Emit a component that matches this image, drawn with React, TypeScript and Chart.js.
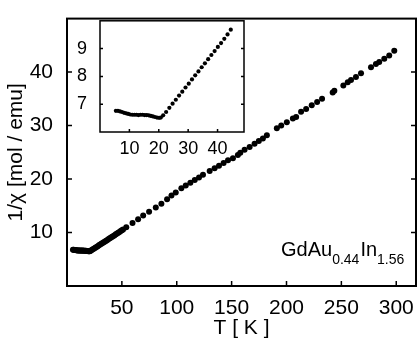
import React, { useEffect, useRef } from 'react';
import { Chart, registerables } from 'chart.js';

Chart.register(...registerables);

// ---- data ----
const insetT = [5.4, 6.1, 6.8, 7.5, 8.2, 8.9, 9.6, 10.3, 11.0, 11.7, 12.4, 13.1, 13.8, 14.5, 15.2, 15.9, 16.6, 17.3, 18.0, 18.7, 19.4, 20.1,
  20.7, 21.5, 22.5, 23.6, 24.7, 25.8, 26.9, 28.0, 29.1, 30.2, 31.3, 32.4, 33.5, 34.6, 35.7, 36.8, 37.9, 39.0, 40.1, 41.2, 42.3, 43.4, 44.5];
const insetChi = [6.76, 6.76, 6.74, 6.72, 6.69, 6.67, 6.65, 6.63, 6.62, 6.62, 6.62, 6.61, 6.62, 6.62, 6.61, 6.61, 6.60, 6.58, 6.56, 6.54, 6.52, 6.51,
  6.52, 6.60, 6.72, 6.87, 7.02, 7.16, 7.31, 7.45, 7.60, 7.74, 7.89, 8.04, 8.18, 8.33, 8.47, 8.62, 8.77, 8.91, 9.06, 9.20, 9.35, 9.51, 9.68];

const highT = [45.6, 46.7, 47.8, 48.9, 50.0, 51.1, 54.0, 59.7, 64.8, 69.4, 74.8, 80.9, 86.0, 91.2, 95.2, 99.1, 104.2, 108.2, 112.4, 116.4,
  120.3, 123.9, 130.0, 134.5, 138.5, 142.7, 146.7, 151.2, 155.7, 157.9, 161.8, 166.4, 170.9, 174.8, 178.5, 182.1, 191.2, 195.2, 200.3, 205.8,
  208.8, 213.3, 217.9, 223.0, 227.9, 232.4, 242.1, 243.6, 251.8, 255.8, 258.8, 263.3, 267.9, 277.0, 281.5, 284.5, 289.1, 293.6, 298.2];
const highChi = [9.83, 9.97, 10.12, 10.27, 10.42, 10.57, 11.0, 11.8, 12.5, 13.2, 13.9, 14.7, 15.4, 16.2, 16.9, 17.5, 18.3, 18.8, 19.3, 19.8,
  20.3, 20.8, 21.5, 22.0, 22.5, 23.0, 23.5, 23.9, 24.5, 24.9, 25.5, 26.0, 26.6, 27.1, 27.6, 28.2, 29.5, 30.0, 30.6, 31.3,
  31.6, 32.6, 33.1, 33.8, 34.4, 35.0, 36.2, 36.5, 37.5, 38.1, 38.5, 39.1, 39.8, 40.9, 41.5, 41.9, 42.5, 43.1, 44.0];

const mainXTicks = [50, 100, 150, 200, 250, 300];
const mainYTicks = [10, 20, 30, 40];
const insetXTicks = [10, 20, 30, 40];
const insetYTicks = [7, 8, 9];

const FONT = '"Liberation Sans", Arial, Helvetica, sans-serif';

function framePlugin(xTicks: number[], yTicks: number[], lw: number, tlen: number) {
  return {
    id: 'frame',
    afterDatasetsDraw(chart: any) {
      const { ctx, chartArea: a, scales } = chart;
      const x = scales.x, y = scales.y;
      ctx.save();
      ctx.strokeStyle = '#000';
      ctx.lineWidth = lw;
      ctx.strokeRect(a.left, a.top, a.right - a.left, a.bottom - a.top);
      ctx.lineWidth = 1.5;
      ctx.beginPath();
      xTicks.forEach((v) => {
        const px = x.getPixelForValue(v);
        ctx.moveTo(px, a.bottom);
        ctx.lineTo(px, a.bottom - tlen);
      });
      yTicks.forEach((v) => {
        const py = y.getPixelForValue(v);
        ctx.moveTo(a.left, py);
        ctx.lineTo(a.left + tlen, py);
        ctx.moveTo(a.right, py);
        ctx.lineTo(a.right - tlen, py);
      });
      ctx.stroke();
      ctx.restore();
    },
  };
}

const labelPlugin = {
  id: 'formula',
  afterDraw(chart: any) {
    const { ctx } = chart;
    ctx.save();
    ctx.fillStyle = '#000';
    ctx.textBaseline = 'alphabetic';
    const parts: [string, boolean][] = [['GdAu', false], ['0.44', true], ['In', false], ['1.56', true]];
    let x = 281;
    parts.forEach(([t, sub]) => {
      ctx.font = sub ? `14px ${FONT}` : `20px ${FONT}`;
      ctx.fillText(t, x, sub ? 264 : 256);
      x += ctx.measureText(t).width + (sub ? 1 : 0);
    });
    ctx.restore();
  },
};

export default function App() {
  const mainRef = useRef<HTMLCanvasElement>(null);
  const insetRef = useRef<HTMLCanvasElement>(null);

  useEffect(() => {
    const allChi = [...insetChi, ...highChi];
    const mainData = [...insetT, ...highT].map((t, i) => ({ x: t, y: allChi[i] }));
    const insetData = insetT.map((t, i) => ({ x: t, y: insetChi[i] }));

    const main = new Chart(mainRef.current!, {
      type: 'scatter',
      data: {
        datasets: [{
          data: mainData,
          pointRadius: 3,
          pointBackgroundColor: '#000',
          pointBorderWidth: 0,
          showLine: false,
        }],
      },
      options: {
        animation: false,
        responsive: false,
        maintainAspectRatio: false,
        layout: { padding: { top: 12.5, right: 1.5, left: 0, bottom: 0 } },
        plugins: { legend: { display: false }, tooltip: { enabled: false } },
        scales: {
          x: {
            type: 'linear', min: 0, max: 318,
            afterBuildTicks: (s: any) => { s.ticks = mainXTicks.map((v) => ({ value: v })); },
            afterFit: (s: any) => { s.height = 52; },
            grid: { display: false }, border: { display: false },
            ticks: { color: '#000', font: { size: 21, family: FONT }, padding: 2, maxRotation: 0, autoSkip: false },
            title: { display: true, text: 'T [ K ]', color: '#000', font: { size: 21, family: FONT, lineHeight: 1 }, padding: { top: 0, bottom: -1 } },
          },
          y: {
            type: 'linear', min: 0, max: 50,
            afterBuildTicks: (s: any) => { s.ticks = mainYTicks.map((v) => ({ value: v })); },
            afterFit: (s: any) => { s.width = 67; },
            grid: { display: false }, border: { display: false },
            ticks: { color: '#000', font: { size: 21, family: FONT }, padding: 6 },
            title: { display: true, text: '1/χ [mol / emu]', color: '#000', font: { size: 21, family: FONT, lineHeight: 1 }, padding: { top: 6, bottom: 0 } },
          },
        },
      },
      plugins: [framePlugin(mainXTicks, mainYTicks, 2, 5), labelPlugin],
    } as any);

    const inset = new Chart(insetRef.current!, {
      type: 'scatter',
      data: {
        datasets: [{
          data: insetData,
          pointRadius: 2.1,
          pointBackgroundColor: '#000',
          pointBorderWidth: 0,
          showLine: false,
        }],
      },
      options: {
        animation: false,
        responsive: false,
        maintainAspectRatio: false,
        layout: { padding: { top: 12.5, right: 6, left: 0, bottom: 0 } },
        plugins: { legend: { display: false }, tooltip: { enabled: false } },
        scales: {
          x: {
            type: 'linear', min: 0, max: 49,
            afterBuildTicks: (s: any) => { s.ticks = insetXTicks.map((v) => ({ value: v })); },
            afterFit: (s: any) => { s.height = 33; },
            grid: { display: false }, border: { display: false },
            ticks: { color: '#000', font: { size: 18, family: FONT }, padding: -2, maxRotation: 0, autoSkip: false },
          },
          y: {
            type: 'linear', min: 6, max: 10,
            afterBuildTicks: (s: any) => { s.ticks = insetYTicks.map((v) => ({ value: v })); },
            afterFit: (s: any) => { s.width = 40; },
            grid: { display: false }, border: { display: false },
            ticks: { color: '#000', font: { size: 18, family: FONT }, padding: 5 },
          },
        },
      },
      plugins: [framePlugin(insetXTicks, insetYTicks, 1.5, 3)],
    } as any);

    return () => {
      main.destroy();
      inset.destroy();
    };
  }, []);

  return (
    <div style={{ position: 'fixed', left: 0, top: 0, width: 420, height: 338, background: '#fff' }}>
      <canvas ref={mainRef} width={420} height={338} style={{ position: 'absolute', left: 0, top: 0, width: 420, height: 338 }} />
      <canvas ref={insetRef} width={190} height={160} style={{ position: 'absolute', left: 60, top: 5, width: 190, height: 160 }} />
    </div>
  );
}
